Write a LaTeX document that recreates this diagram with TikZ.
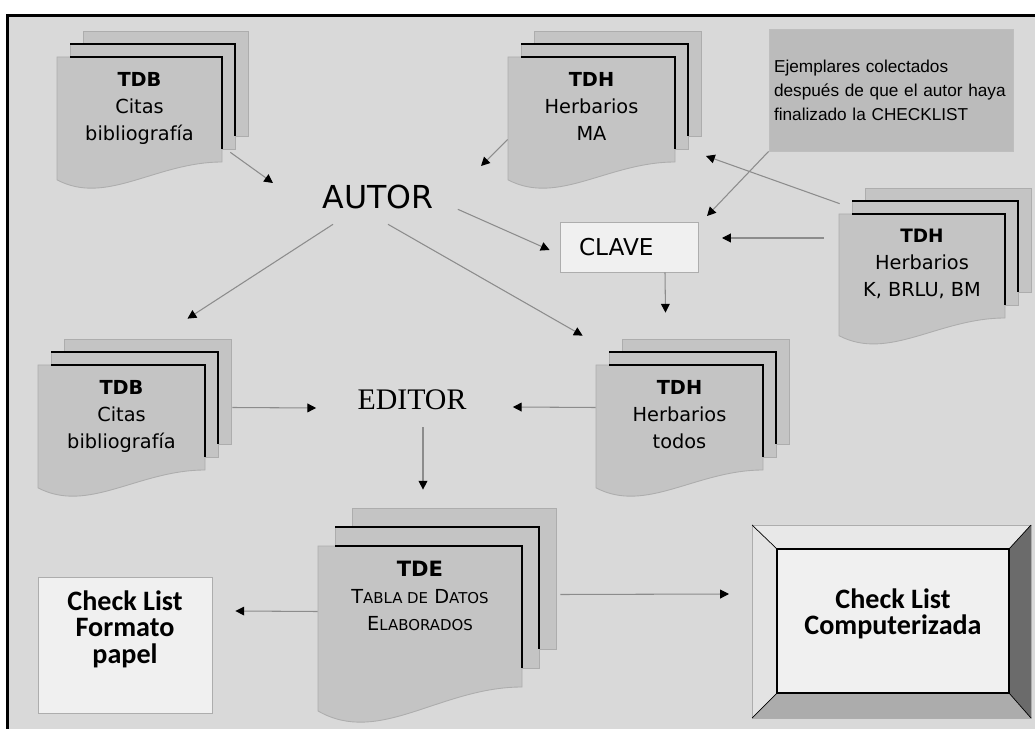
\documentclass[tikz,border=0pt]{standalone}
\usepackage{fontspec}
\usetikzlibrary{arrows.meta}
\newfontfamily\verdana{DejaVu Sans}
\newfontfamily\notefont{Liberation Sans}
\newfontfamily\seriffont{Liberation Serif}
\newfontfamily\carlito{Carlito}
\definecolor{fondo}{gray}{0.85}
\definecolor{hoja}{gray}{0.77}
\definecolor{borde}{gray}{0.68}
\definecolor{flecha}{gray}{0.55}
\definecolor{claro}{gray}{0.94}
\definecolor{oscuro}{gray}{0.42}
% small capitals by hand
\newcommand{\smc}[1]{{\fontsize{8.5}{8.5}\selectfont #1}}
% stack of three sheets: name, x, y, width, height, dx, dy, text
\newcommand{\hojas}[8]{%
	\filldraw[sheet] ({#2+2*#6},{#3-2*#7}) rectangle ++(#4,#5);
	\filldraw[sheet] ({#2+#6},{#3-#7}) rectangle ++(#4,#5);
	\draw[edge] ({#2+#6},{#3-#7}) -- ({#2+#4+#6},{#3-#7}) -- ({#2+#4+#6},{#3+#5-2*#7});
	\filldraw[sheet] (#2,#3) -- ({#2+#4},#3) -- ({#2+#4},{#3+#5})
		.. controls ({#2+0.6*#4},{#3+#5}) and ({#2+0.3*#4},{#3+1.42*#5}) .. (#2,{#3+1.17*#5}) -- cycle;
	\draw[edge] ({#2+#6},#3) -- ({#2+#4},#3) -- ({#2+#4},{#3+#5-#7});
	\node[front, minimum width={#4*0.02cm}, minimum height={#5*0.02cm}] (#1) at ({#2+#4/2},{#3+#5/2}) {};
	\node[doctext] (#1txt) at ({#2+#4/2},{#3+15}) {#8};
}

\begin{document}
\begin{tikzpicture}[
		x=0.02cm, y=-0.02cm,
		sheet/.style={fill=hoja,draw=borde,line width=0.5pt},
		edge/.style={black,line width=0.9pt},
		front/.style={inner sep=0pt},
		doctext/.style={anchor=north,inner sep=0pt,align=center,font={\verdana\fontsize{11}{15.3}\selectfont}},
		box/.style={fill=claro,draw=borde,line width=0.5pt,inner sep=0pt},
		arr/.style={draw=flecha,line width=0.6pt,-{Triangle[length=5pt,width=5pt,color=black]}},
		big/.style={inner sep=0pt,font={\verdana\fontsize{18}{20}\selectfont}}]
	\useasboundingbox (0,0) rectangle (1035,729);
	%% define frame
	\fill[white] (0,0) rectangle (1035,729);
	\fill[fondo] (7,15) rectangle (1035,729);
	\draw[black,line width=1.7pt] (7.5,729) -- (7.5,15.5) -- (1035,15.5);
	%% define sheets
	\hojas{tdbA}{57}{57}{165}{105}{13}{13}{\textbf{TDB}\\Citas\\bibliografía}
	\hojas{tdhA}{508}{57}{167}{105}{13}{13}{\textbf{TDH}\\Herbarios\\MA}
	\hojas{tdhB}{839}{214}{166}{104}{13}{13}{\fontsize{10.5}{13.5}\selectfont\textbf{TDH}\\Herbarios\\K, BRLU, BM}
	\hojas{tdbB}{38}{365}{167}{105}{13}{13}{\textbf{TDB}\\Citas\\bibliografía}
	\hojas{tdhC}{596}{365}{167}{105}{13}{13}{\textbf{TDH}\\Herbarios\\todos}
	\hojas{tde}{318}{546}{204}{141}{17}{19}{\fontsize{13}{15.3}\selectfont{\fontsize{12}{12}\selectfont\textbf{TDE}}\\T\smc{ABLA DE} D\smc{ATOS}\\E\smc{LABORADOS}}
	%% define boxes
	\node[big] (autor) at (378,197) {AUTOR};
	\node[inner sep=0pt,font={\seriffont\fontsize{17}{20}\selectfont}] (editor) at (412,400) {EDITOR};
	\node[box,minimum width=2.76cm,minimum height=1cm,text width=2.0cm,inner xsep=0.38cm,align=left,
		font={\verdana\fontsize{13.2}{15}\selectfont}] (clave) at (629,247) {CLAVE};
	\node[box,fill=hoja!95!black,draw=borde!80,minimum width=4.88cm,minimum height=2.44cm,text width=4.68cm,
		inner xsep=0.1cm,align=left,font={\notefont\fontsize{9.8}{13.6}\selectfont}] (nota) at (891,90)
		{Ejemplares colectados\\después de que el autor haya\\finalizado la CHECKLIST};
	\node[box,minimum width=3.48cm,minimum height=2.72cm] (papel) at (125,645) {};
	\node[anchor=north,inner sep=0pt,align=center,font={\carlito\bfseries\fontsize{16}{15.3}\selectfont}]
		(papeltxt) at (125,590) {Check List\\Formato\\papel};
	%% define bevel box
	\fill[gray!18] (752,525) -- (1031,525) -- (1009,549) -- (777,549) -- cycle;
	\fill[gray!22] (752,525) -- (777,549) -- (777,693) -- (752,718) -- cycle;
	\fill[gray!65] (752,718) -- (777,693) -- (1009,693) -- (1031,718) -- cycle;
	\fill[oscuro] (1031,525) -- (1009,549) -- (1009,693) -- (1031,718) -- cycle;
	\draw[borde,line width=0.5pt] (752,525) rectangle (1031,718);
	\draw[black,line width=0.4pt] (752,525) -- (777,549) (1031,525) -- (1009,549)
		(752,718) -- (777,693) (1031,718) -- (1009,693);
	\node[box,draw=black,line width=0.8pt,minimum width=4.64cm,minimum height=2.88cm] (compu) at (893,621) {};
	\node[anchor=north,inner sep=0pt,align=center,font={\carlito\bfseries\fontsize{16}{15.3}\selectfont}]
		(computxt) at (893,588) {Check List\\Computerizada};
	%% define tips
	\coordinate (tipA) at (273,183);
	\coordinate (tipB) at (481,166);
	\coordinate (tipC) at (707,216);
	\coordinate (tipD) at (706,156);
	\coordinate (tipE) at (722,238);
	\coordinate (tipF) at (729,594);
	%% define arrows
	\draw[arr] ([shift={(8,-10)}]tdbA.south east) -- (tipA);
	\draw[arr] ([shift={(0,30)}]tdhA.west) -- (tipB);
	\draw[arr] (nota.south west) -- (tipC);
	\draw[arr] ([shift={(1,-10)}]tdhB.north west) -- (tipD);
	\draw[arr] ([shift={(-15,-28)}]tdhB.west) -- (tipE);
	\draw[arr] ([shift={(24,0)}]autor.south east) -- ([shift={(-10,3)}]clave.west);
	\draw[arr] ([shift={(10,15)}]autor.south) -- ([shift={(-13,-29)}]tdhC.north west);
	\draw[arr] ([shift={(-45,15)}]autor.south) -- ([shift={(66,-46)}]tdbB.north);
	\draw[arr] ([shift={(36,0)}]clave.south) -- ([shift={(-14,-52)}]tdhC.north);
	\draw[arr] ([shift={(27,-10)}]tdbB.east) -- ([shift={(-41,8)}]editor.west);
	\draw[arr] ([shift={(0,-10)}]tdhC.west) -- ([shift={(46,7)}]editor.east);
	\draw[arr] ([shift={(11,17)}]editor.south) -- ([shift={(3,-56)}]tde.north);
	\draw[arr] ([shift={(0,-5)}]tde.west) -- ([shift={(23,-34)}]papel.east);
	\draw[arr] ([shift={(38,-22)}]tde.east) -- (tipF);
\end{tikzpicture}
\end{document}
